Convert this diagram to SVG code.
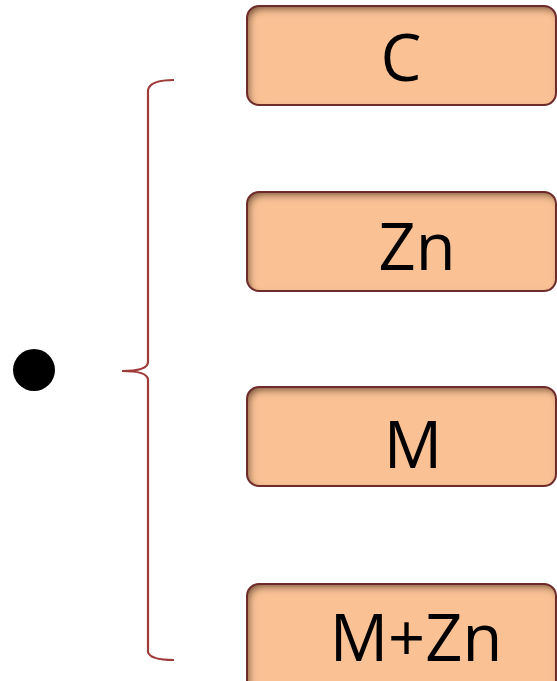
<svg xmlns="http://www.w3.org/2000/svg" width="557" height="681" viewBox="0 0 557 681">
<defs>
<filter id="inner" x="-5%" y="-10%" width="110%" height="120%">
<feGaussianBlur in="SourceAlpha" stdDeviation="3.5" result="b"/>
<feOffset dx="3" dy="4" result="o"/>
<feComposite in="SourceAlpha" in2="o" operator="out" result="sh"/>
<feFlood flood-color="#4a2008" flood-opacity="0.85"/>
<feComposite in2="sh" operator="in" result="shc"/>
<feMerge><feMergeNode in="SourceGraphic"/><feMergeNode in="shc"/></feMerge>
</filter>
<style>
.box{fill:#f9c194;filter:url(#inner)}
.bord{fill:none;stroke:#6e2b2b;stroke-width:2}
.t{font-family:"Open Sans","Noto Sans","Liberation Sans",sans-serif;font-size:65px;fill:#000}
.br{fill:none;stroke:#9e3a3a;stroke-width:2.2}
</style>
</defs>
<circle cx="34" cy="370" r="21" fill="#000"/>
<g id="connectors">
<path class="br" d="M174,80 Q150,80 148,90 L148,362 Q148,371 122,371 Q148,371 148,380 L148,652 Q150,660 174,660"/>
</g>
<g id="node-c">
<rect class="box" x="247" y="6" width="309" height="99" rx="12"/>
<rect class="bord" x="247" y="6" width="309" height="99" rx="12"/>
<text class="t" x="401" y="81" text-anchor="middle">C</text>
</g>
<g id="node-zn">
<rect class="box" x="247" y="192" width="309" height="99" rx="12"/>
<rect class="bord" x="247" y="192" width="309" height="99" rx="12"/>
<text class="t" x="417" y="270" text-anchor="middle">Zn</text>
</g>
<g id="node-m">
<rect class="box" x="247" y="387" width="309" height="99" rx="12"/>
<rect class="bord" x="247" y="387" width="309" height="99" rx="12"/>
<text class="t" x="413" y="468" text-anchor="middle">M</text>
</g>
<g id="node-mzn">
<rect class="box" x="247" y="584" width="309" height="110" rx="12"/>
<rect class="bord" x="247" y="584" width="309" height="110" rx="12"/>
<text class="t" x="416" y="661" text-anchor="middle">M+Zn</text>
</g>
</svg>
